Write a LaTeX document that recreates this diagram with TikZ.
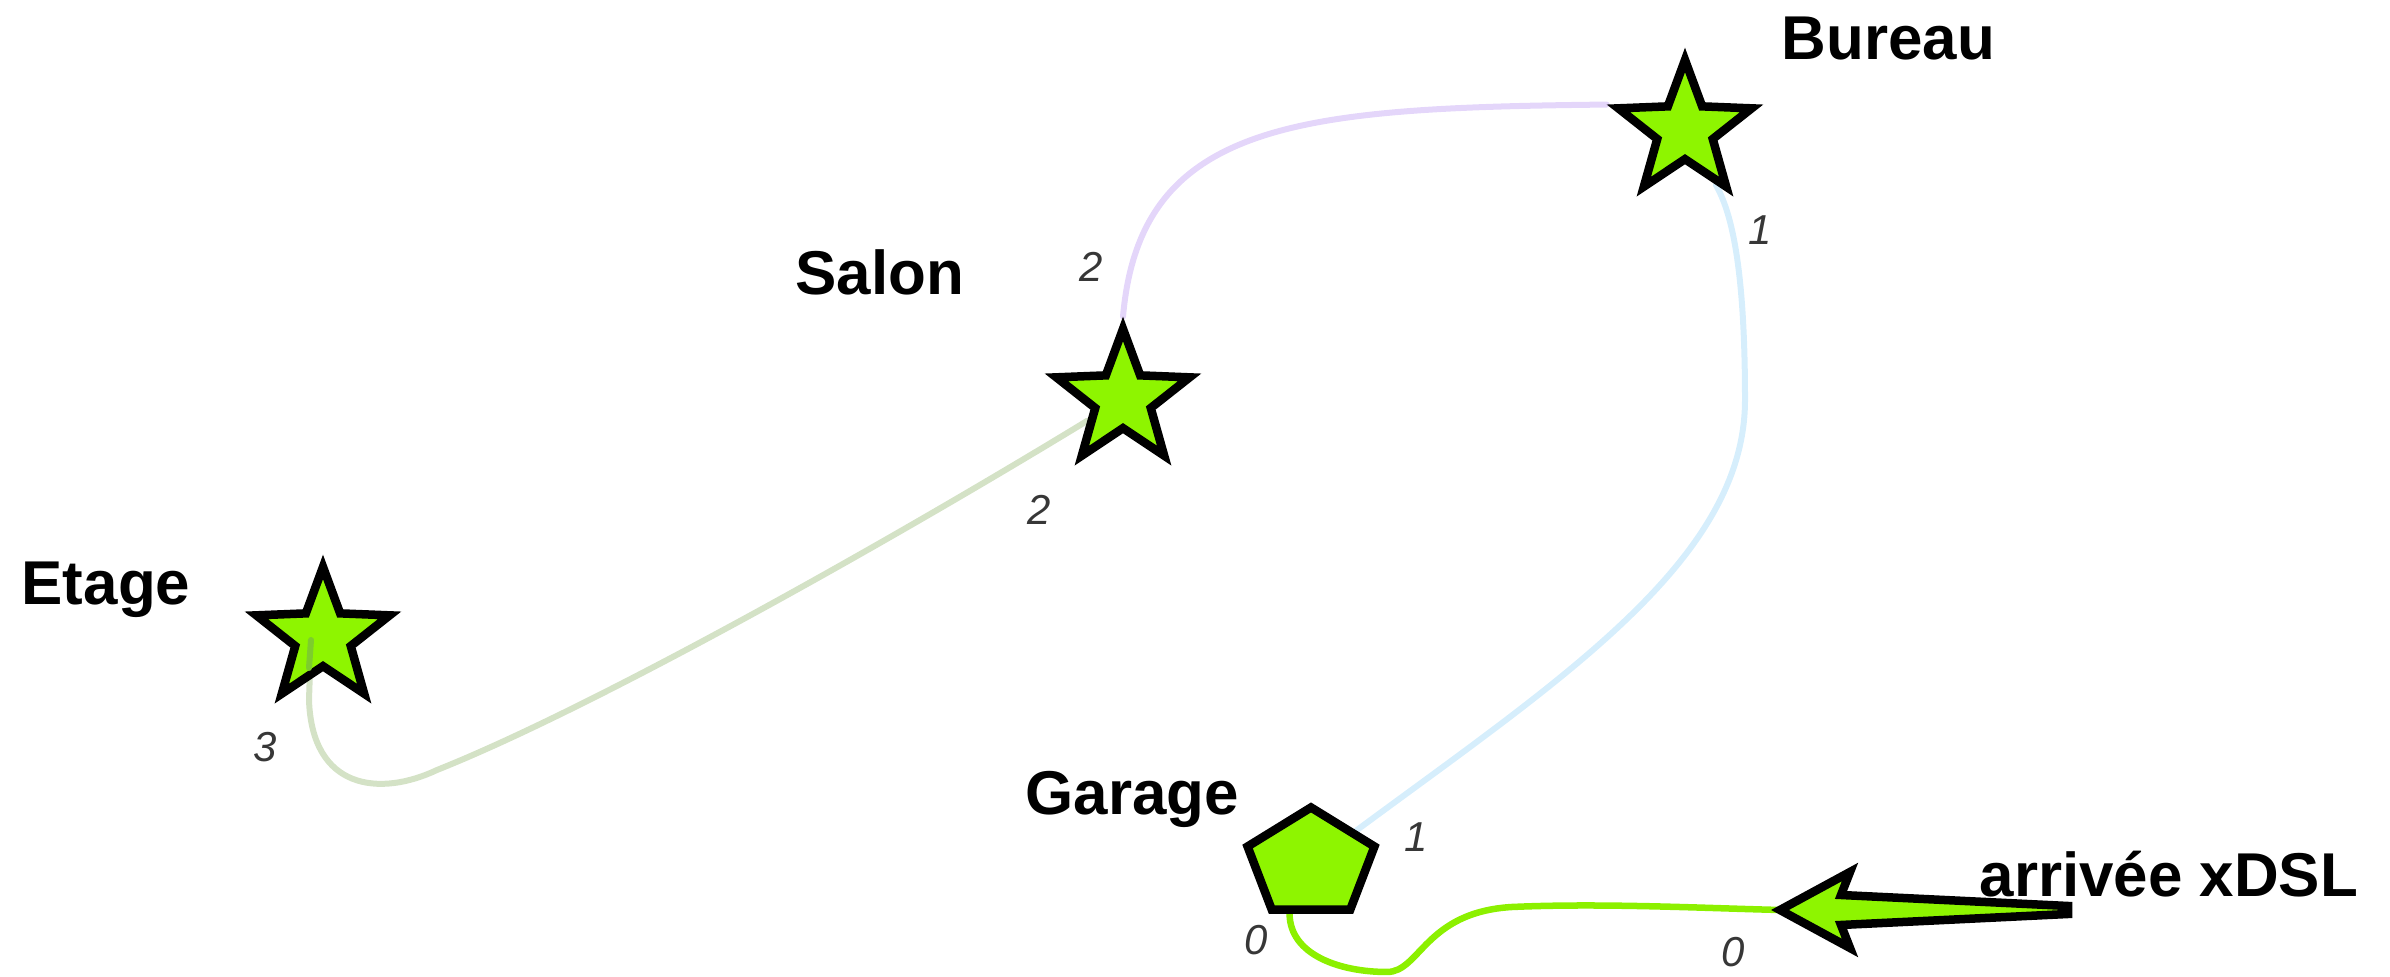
\documentclass[tikz,border=0pt]{standalone}
\usepackage{fontspec}
\setmainfont{Liberation Sans}
\usetikzlibrary{shapes.geometric,calc,backgrounds}
\definecolor{nodegreen}{RGB}{142,245,0}
\definecolor{wirepurple}{RGB}{228,214,250}
\definecolor{wireblue}{RGB}{214,238,252}
\definecolor{wiresage}{RGB}{212,226,198}
\definecolor{wiregreen}{RGB}{140,240,0}
\definecolor{numgray}{RGB}{55,55,55}
\definecolor{innergreen}{RGB}{125,205,45}
\tikzset{
  room/.style={star, star points=5, star point ratio=2.4, minimum size=1.4cm,
    inner sep=0pt, fill=nodegreen, draw=black, line width=0.085cm},
  entry/.style={regular polygon, regular polygon sides=5, minimum size=1.13cm,
    inner sep=0pt, fill=nodegreen, draw=black, line width=0.085cm, xscale=1.18},
  title/.style={font=\bfseries\fontsize{17.6pt}{20pt}\selectfont, inner sep=0pt, anchor=base west},
  num/.style={font=\itshape\fontsize{11.9pt}{13pt}\selectfont, text=numgray, inner sep=0pt},
  wire/.style={line width=0.06cm, line cap=round},
  headshape/.style={fill=nodegreen, draw=black, line width=0.085cm, line join=miter},
}
\begin{document}
\begin{tikzpicture}[x=0.01cm,y=-0.01cm]
\useasboundingbox (0,0) rectangle (2390,977);

% coordinates for free ends
\coordinate (xdsl) at (1780,910);
\coordinate (etagein) at (311,640);
\coordinate (bend1) at (1745,400);
\coordinate (bend2) at (437,770);
\coordinate (bend3) at (1387,972);
\coordinate (bend4) at (1512,907);

% nodes
\node[room] (etage) at (323,637) {};
\node[room] (salon) at (1123,399) {};
\node[room] (bureau) at (1685,130) {};
\node[entry] (garage) at (1311,864) {};
\coordinate (garagebot) at ($(garage.corner 3)!0.25!(garage.corner 4)$);

% connectors behind the nodes
\begin{scope}[on background layer]
\draw[wire, wirepurple] (salon.outer point 1) .. controls (1140,120) and (1300,108) .. (bureau.outer point 2);
\draw[wire, wireblue] (garage) .. controls (1560,680) and (1745,560) .. (bend1)
      .. controls (1745,260) and (1730,210) .. (bureau);
\draw[wire, wiresage] (salon) .. controls (900,535) and (600,705) .. (bend2)
      .. controls (380,797) and (312,790) .. (309,700) -- (etagein);
\draw[wire, wiregreen, line width=0.065cm] (garagebot) .. controls (1290,955) and (1340,972) .. (bend3)
      .. controls (1420,972) and (1425,912) .. (bend4)
      .. controls (1600,903) and (1700,908) .. (xdsl);
\end{scope}
\draw[wire, innergreen] (etagein) -- ++(-2,28);

% incoming arrow
\filldraw[headshape] (xdsl) -- ++(70,-38) -- ++(-9,23) -- (2068,906) -- (2068,914)
   -- ($(xdsl)+(61,15)$) -- ($(xdsl)+(70,38)$) -- cycle;

% titles
\node[title] (bureaulbl) at (1781,60) {Bureau};
\node[title] (salonlbl) at (795,295) {Salon};
\node[title] (etagelbl) at (21,605) {Etage};
\node[title] (garagelbl) at (1025,815) {Garage};
\node[title] (xdsllbl) at (1979,897) {arrivée xDSL};

% numbers
\node[num] (n1) at (1760,230) {1};
\node[num] (n2) at (1091,267) {2};
\node[num] (n3) at (1039,510) {2};
\node[num] (n4) at (265,747) {3};
\node[num] (n5) at (1416,837) {1};
\node[num] (n6) at (1256,940) {0};
\node[num] (n7) at (1733,952) {0};
\end{tikzpicture}
\end{document}
